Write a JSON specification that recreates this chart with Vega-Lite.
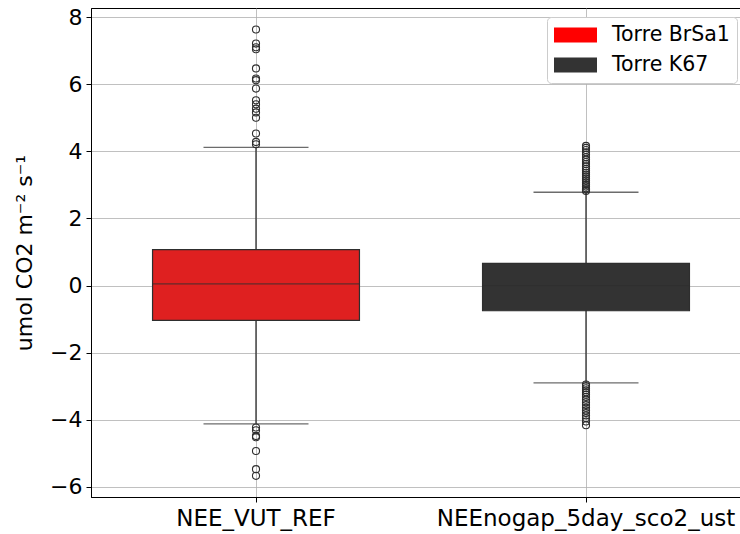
{
  "$schema": "https://vega.github.io/schema/vega-lite/v6.json",
  "autosize": "none",
  "padding": {"left": 91, "top": 8, "right": 0, "bottom": 37},
  "width": 650,
  "height": 489,
  "config": {
    "font": "DejaVu Sans",
    "view": {"stroke": "#000000", "strokeWidth": 1}
  },
  "datasets": {
    "boxes": [
      {"var": "NEE_VUT_REF", "torre": "Torre BrSa1", "lower": -4.12, "q1": -1.04, "median": 0.05, "q3": 1.07, "upper": 4.12},
      {"var": "NEEnogap_5day_sco2_ust", "torre": "Torre K67", "lower": -2.9, "q1": -0.75, "median": 0.0, "q3": 0.66, "upper": 2.78}
    ],
    "outliers": [
      {"var": "NEE_VUT_REF", "value": 7.63},
      {"var": "NEE_VUT_REF", "value": 7.21},
      {"var": "NEE_VUT_REF", "value": 7.1},
      {"var": "NEE_VUT_REF", "value": 7.04},
      {"var": "NEE_VUT_REF", "value": 6.47},
      {"var": "NEE_VUT_REF", "value": 6.17},
      {"var": "NEE_VUT_REF", "value": 6.12},
      {"var": "NEE_VUT_REF", "value": 5.87},
      {"var": "NEE_VUT_REF", "value": 5.52},
      {"var": "NEE_VUT_REF", "value": 5.4},
      {"var": "NEE_VUT_REF", "value": 5.27},
      {"var": "NEE_VUT_REF", "value": 5.16},
      {"var": "NEE_VUT_REF", "value": 5.0},
      {"var": "NEE_VUT_REF", "value": 4.53},
      {"var": "NEE_VUT_REF", "value": 4.28},
      {"var": "NEE_VUT_REF", "value": 4.21},
      {"var": "NEE_VUT_REF", "value": -4.23},
      {"var": "NEE_VUT_REF", "value": -4.31},
      {"var": "NEE_VUT_REF", "value": -4.48},
      {"var": "NEE_VUT_REF", "value": -4.52},
      {"var": "NEE_VUT_REF", "value": -4.93},
      {"var": "NEE_VUT_REF", "value": -5.47},
      {"var": "NEE_VUT_REF", "value": -5.67},
      {"var": "NEEnogap_5day_sco2_ust", "value": 2.82},
      {"var": "NEEnogap_5day_sco2_ust", "value": 2.86},
      {"var": "NEEnogap_5day_sco2_ust", "value": 2.9},
      {"var": "NEEnogap_5day_sco2_ust", "value": 2.95},
      {"var": "NEEnogap_5day_sco2_ust", "value": 3.0},
      {"var": "NEEnogap_5day_sco2_ust", "value": 3.06},
      {"var": "NEEnogap_5day_sco2_ust", "value": 3.12},
      {"var": "NEEnogap_5day_sco2_ust", "value": 3.18},
      {"var": "NEEnogap_5day_sco2_ust", "value": 3.24},
      {"var": "NEEnogap_5day_sco2_ust", "value": 3.3},
      {"var": "NEEnogap_5day_sco2_ust", "value": 3.36},
      {"var": "NEEnogap_5day_sco2_ust", "value": 3.42},
      {"var": "NEEnogap_5day_sco2_ust", "value": 3.48},
      {"var": "NEEnogap_5day_sco2_ust", "value": 3.55},
      {"var": "NEEnogap_5day_sco2_ust", "value": 3.62},
      {"var": "NEEnogap_5day_sco2_ust", "value": 3.68},
      {"var": "NEEnogap_5day_sco2_ust", "value": 3.75},
      {"var": "NEEnogap_5day_sco2_ust", "value": 3.82},
      {"var": "NEEnogap_5day_sco2_ust", "value": 3.9},
      {"var": "NEEnogap_5day_sco2_ust", "value": 3.97},
      {"var": "NEEnogap_5day_sco2_ust", "value": 4.04},
      {"var": "NEEnogap_5day_sco2_ust", "value": 4.1},
      {"var": "NEEnogap_5day_sco2_ust", "value": 4.16},
      {"var": "NEEnogap_5day_sco2_ust", "value": -2.95},
      {"var": "NEEnogap_5day_sco2_ust", "value": -3.0},
      {"var": "NEEnogap_5day_sco2_ust", "value": -3.06},
      {"var": "NEEnogap_5day_sco2_ust", "value": -3.12},
      {"var": "NEEnogap_5day_sco2_ust", "value": -3.18},
      {"var": "NEEnogap_5day_sco2_ust", "value": -3.25},
      {"var": "NEEnogap_5day_sco2_ust", "value": -3.32},
      {"var": "NEEnogap_5day_sco2_ust", "value": -3.4},
      {"var": "NEEnogap_5day_sco2_ust", "value": -3.48},
      {"var": "NEEnogap_5day_sco2_ust", "value": -3.56},
      {"var": "NEEnogap_5day_sco2_ust", "value": -3.64},
      {"var": "NEEnogap_5day_sco2_ust", "value": -3.72},
      {"var": "NEEnogap_5day_sco2_ust", "value": -3.8},
      {"var": "NEEnogap_5day_sco2_ust", "value": -3.87},
      {"var": "NEEnogap_5day_sco2_ust", "value": -3.95},
      {"var": "NEEnogap_5day_sco2_ust", "value": -4.05},
      {"var": "NEEnogap_5day_sco2_ust", "value": -4.16}
    ]
  },
  "encoding": {
    "x": {
      "field": "var",
      "type": "nominal",
      "sort": ["NEE_VUT_REF", "NEEnogap_5day_sco2_ust"],
      "scale": {"domain": ["NEE_VUT_REF", "NEEnogap_5day_sco2_ust"], "range": [0, 660], "paddingInner": 0, "paddingOuter": 0},
      "axis": {
        "title": null, "labelAngle": 0, "grid": true, "bandPosition": 0.5, "labelPadding": 5, "labelLimit": 0,
        "labelFont": "DejaVu Sans", "labelFontSize": 23, "labelColor": "#000000",
        "domainColor": "#000000", "tickColor": "#000000", "tickSize": 5,
        "gridColor": "#b0b0b0", "gridWidth": 0.8
      }
    }
  },
  "layer": [
    {
      "data": {"name": "boxes"},
      "mark": {"type": "rule", "color": "#2e2e2e", "strokeWidth": 1.3},
      "encoding": {
        "y": {
          "field": "lower",
          "type": "quantitative",
          "scale": {"domain": [-6.3, 8.27], "nice": false, "zero": false},
          "axis": {
            "title": "umol CO2 m⁻² s⁻¹", "values": [-6, -4, -2, 0, 2, 4, 6, 8], "grid": true,
            "labelPadding": 4, "titlePadding": 13,
            "labelFont": "DejaVu Sans", "labelFontSize": 22, "labelColor": "#000000",
            "titleFont": "DejaVu Sans", "titleFontSize": 22, "titleColor": "#000000", "titleFontWeight": "normal",
            "domainColor": "#000000", "tickColor": "#000000", "tickSize": 5,
            "gridColor": "#b0b0b0", "gridWidth": 0.8
          }
        },
        "y2": {"field": "upper"}
      }
    },
    {
      "data": {"name": "boxes"},
      "mark": {"type": "bar", "width": {"band": 0.627}, "stroke": "#2e2e2e", "strokeWidth": 1.2},
      "encoding": {
        "y": {"field": "q1", "type": "quantitative"},
        "y2": {"field": "q3"},
        "fill": {
          "field": "var",
          "type": "nominal",
          "scale": {"domain": ["NEE_VUT_REF", "NEEnogap_5day_sco2_ust"], "range": ["#df2020", "#333333"]},
          "legend": null
        }
      }
    },
    {
      "data": {"name": "boxes"},
      "mark": {"type": "square", "filled": true, "opacity": 0, "size": 10},
      "encoding": {
        "y": {"field": "median", "type": "quantitative"},
        "color": {
          "field": "torre",
          "type": "nominal",
          "scale": {"domain": ["Torre BrSa1", "Torre K67"], "range": ["#ff0000", "#333333"]},
          "legend": {
            "title": null,
            "orient": "none",
            "legendX": 456,
            "legendY": 9,
            "symbolType": "M-1,-0.35H1V0.35H-1Z",
            "symbolSize": 1849,
            "symbolStrokeWidth": 0,
            "symbolOpacity": 1,
            "labelOffset": 15,
            "labelFont": "DejaVu Sans",
            "labelFontSize": 20.5,
            "labelColor": "#000000",
            "padding": 7,
            "rowPadding": 8,
            "clipHeight": 22,
            "strokeColor": "#cccccc",
            "cornerRadius": 4,
            "fillColor": "#ffffff"
          }
        }
      }
    },
    {
      "data": {"name": "boxes"},
      "mark": {"type": "tick", "size": 207, "thickness": 1.3, "color": "#2e2e2e", "orient": "horizontal"},
      "encoding": {"y": {"field": "median", "type": "quantitative"}}
    },
    {
      "data": {"name": "boxes"},
      "mark": {"type": "tick", "size": 105, "thickness": 1.3, "color": "#2e2e2e", "orient": "horizontal"},
      "encoding": {"y": {"field": "upper", "type": "quantitative"}}
    },
    {
      "data": {"name": "boxes"},
      "mark": {"type": "tick", "size": 105, "thickness": 1.3, "color": "#2e2e2e", "orient": "horizontal"},
      "encoding": {"y": {"field": "lower", "type": "quantitative"}}
    },
    {
      "data": {"name": "outliers"},
      "mark": {"type": "point", "shape": "circle", "filled": false, "size": 50, "stroke": "#2e2e2e", "strokeWidth": 1.1, "opacity": 1},
      "encoding": {"y": {"field": "value", "type": "quantitative"}}
    }
  ]
}
